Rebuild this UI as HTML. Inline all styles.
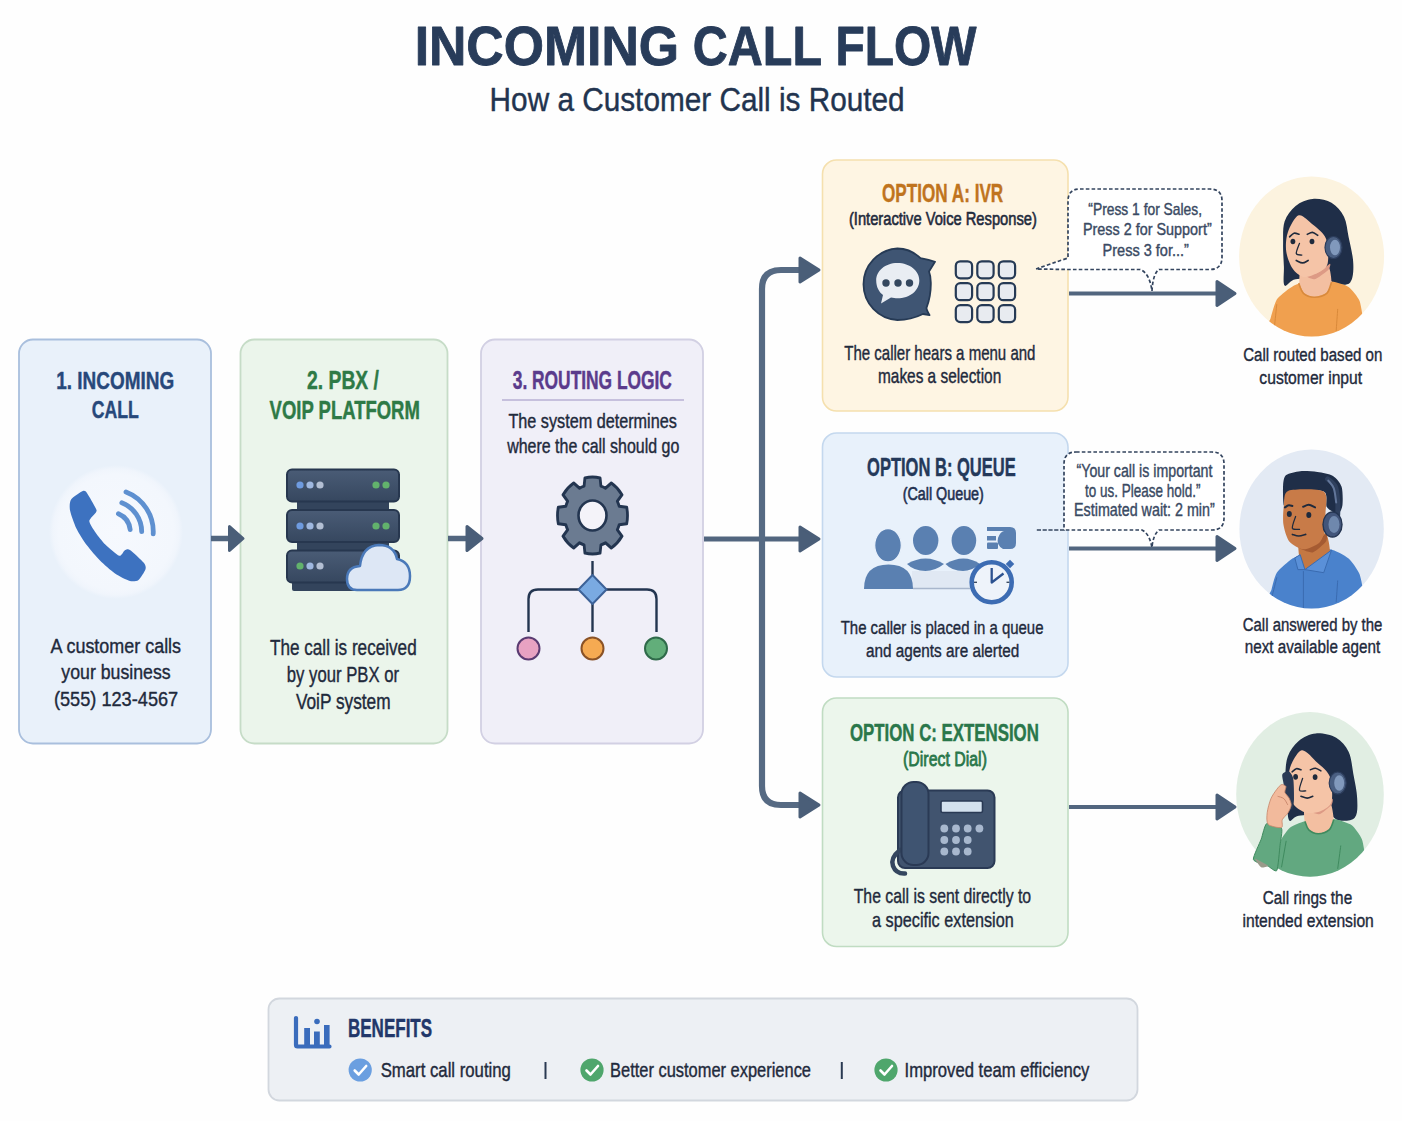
<!DOCTYPE html>
<html><head><meta charset="utf-8"><title>Incoming Call Flow</title>
<style>
html,body{margin:0;padding:0;background:#fefefe;}
body{width:1402px;height:1121px;overflow:hidden;position:relative;}
svg{position:absolute;left:0;top:0;font-family:"Liberation Sans",sans-serif;}
</style></head><body>
<svg width="1402" height="1121" viewBox="0 0 1402 1121">
<rect width="1402" height="1121" fill="#fefefe"/>
<rect x="19" y="339.5" width="192" height="404.0" rx="14" fill="#e9f1fa" stroke="#a9bfdd" stroke-width="1.8"/>
<rect x="240.5" y="339.5" width="207.0" height="404.0" rx="14" fill="#ebf5eb" stroke="#c6dcc7" stroke-width="1.8"/>
<rect x="481" y="339.5" width="222" height="404.0" rx="14" fill="#f0eff8" stroke="#d2d0e3" stroke-width="1.8"/>
<rect x="822.5" y="160" width="245.5" height="251" rx="14" fill="#fef5e3" stroke="#f5e0ae" stroke-width="1.6"/>
<rect x="822.5" y="433" width="245.5" height="244" rx="14" fill="#e8f1fb" stroke="#c4d8ee" stroke-width="1.6"/>
<rect x="822.5" y="698" width="245.5" height="248.5" rx="14" fill="#ecf6ec" stroke="#c0dcc2" stroke-width="1.6"/>
<rect x="268.5" y="998.5" width="869.0" height="102.0" rx="11" fill="#edf0f4" stroke="#d2d7de" stroke-width="1.8"/>
<path d="M211,538.5 H232" stroke="#52667f" stroke-width="5.5" fill="none"/>
<path d="M229.5,526.5 L243,538.5 L229.5,550.5 Z" fill="#4a5e78" stroke="#4a5e78" stroke-width="3" stroke-linejoin="round"/>
<path d="M448,538.5 H470" stroke="#52667f" stroke-width="5.5" fill="none"/>
<path d="M467,526.5 L482,538.5 L467,550.5 Z" fill="#4a5e78" stroke="#4a5e78" stroke-width="3" stroke-linejoin="round"/>
<path d="M704,539 H806" stroke="#52667f" stroke-width="5" fill="none"/>
<path d="M800,527.0 L819,539 L800,551.0 Z" fill="#4a5e78" stroke="#4a5e78" stroke-width="3" stroke-linejoin="round"/>
<path d="M804,270 H781 Q762,270 762,289 V786 Q762,805 781,805 H804" stroke="#566a83" stroke-width="6.2" fill="none"/>
<path d="M800,258.0 L819,270 L800,282.0 Z" fill="#4a5e78" stroke="#4a5e78" stroke-width="3" stroke-linejoin="round"/>
<path d="M800,793.0 L819,805 L800,817.0 Z" fill="#4a5e78" stroke="#4a5e78" stroke-width="3" stroke-linejoin="round"/>
<path d="M1069,293.5 H1222" stroke="#52667f" stroke-width="4" fill="none"/>
<path d="M1217,281.5 L1235,293.5 L1217,305.5 Z" fill="#4a5e78" stroke="#4a5e78" stroke-width="3" stroke-linejoin="round"/>
<path d="M1069,548.5 H1222" stroke="#52667f" stroke-width="4" fill="none"/>
<path d="M1217,536.5 L1235,548.5 L1217,560.5 Z" fill="#4a5e78" stroke="#4a5e78" stroke-width="3" stroke-linejoin="round"/>
<path d="M1069,807 H1222" stroke="#52667f" stroke-width="4.2" fill="none"/>
<path d="M1217,795.0 L1235,807 L1217,819.0 Z" fill="#4a5e78" stroke="#4a5e78" stroke-width="3" stroke-linejoin="round"/>
<path d="M1080,189 H1210 Q1222,189 1222,201 V257 Q1222,269.5 1210,269.5 H1159 C1155,272 1152.5,280 1152,291 C1150.5,280 1147,272 1140,269.5 H1068 L1036,269 Q1050,264 1068,258 V201 Q1068,189 1080,189 Z" stroke="#33445e" stroke-width="1.7" stroke-dasharray="3.6,2.2" fill="#ffffff"/>
<path d="M1076,452 H1212 Q1224,452 1224,464 V518 Q1224,530 1212,530 H1159 C1155,533 1152.5,540 1152,547.5 C1150.5,540 1148,533 1142,530 H1036 L1064,530 V464 Q1064,452 1076,452 Z" stroke="#33445e" stroke-width="1.7" stroke-dasharray="3.6,2.2" fill="#ffffff"/>
<text transform="translate(414.64,65.20) scale(0.9249,1)" font-size="55.96" font-weight="bold" fill="#283c5a" stroke="#283c5a" stroke-width="0.9" stroke-linejoin="round">INCOMING</text>
<text transform="translate(692.86,65.20) scale(0.8663,1)" font-size="55.96" font-weight="bold" fill="#283c5a" stroke="#283c5a" stroke-width="0.9" stroke-linejoin="round">CALL</text>
<text transform="translate(835.49,65.20) scale(0.8557,1)" font-size="55.96" font-weight="bold" fill="#283c5a" stroke="#283c5a" stroke-width="0.9" stroke-linejoin="round">FLOW</text>
<text transform="translate(489.62,110.60) scale(0.9104,1)" font-size="32.70" fill="#22344f" stroke="#22344f" stroke-width="0.4" stroke-linejoin="round">How a Customer Call is Routed</text>
<text transform="translate(56.26,388.70) scale(0.7670,1)" font-size="24.71" font-weight="bold" fill="#27487a" stroke="#27487a" stroke-width="0.45" stroke-linejoin="round">1. INCOMING</text>
<text transform="translate(91.69,418.00) scale(0.7143,1)" font-size="24.71" font-weight="bold" fill="#27487a" stroke="#27487a" stroke-width="0.45" stroke-linejoin="round">CALL</text>
<text transform="translate(50.50,653.20) scale(0.8514,1)" font-size="21.08" fill="#1f2a3c" stroke="#1f2a3c" stroke-width="0.4" stroke-linejoin="round">A customer calls</text>
<text transform="translate(61.31,679.30) scale(0.8414,1)" font-size="21.08" fill="#1f2a3c" stroke="#1f2a3c" stroke-width="0.4" stroke-linejoin="round">your business</text>
<text transform="translate(53.91,706.30) scale(0.8630,1)" font-size="21.08" fill="#1f2a3c" stroke="#1f2a3c" stroke-width="0.4" stroke-linejoin="round">(555) 123-4567</text>
<text transform="translate(307.12,389.00) scale(0.7673,1)" font-size="25.15" font-weight="bold" fill="#2e7a46" stroke="#2e7a46" stroke-width="0.45" stroke-linejoin="round">2. PBX /</text>
<text transform="translate(269.61,418.60) scale(0.7351,1)" font-size="25.15" font-weight="bold" fill="#2e7a46" stroke="#2e7a46" stroke-width="0.45" stroke-linejoin="round">VOIP PLATFORM</text>
<text transform="translate(269.96,655.00) scale(0.7864,1)" font-size="21.80" fill="#1f2a3c" stroke="#1f2a3c" stroke-width="0.4" stroke-linejoin="round">The call is received</text>
<text transform="translate(286.82,681.70) scale(0.7654,1)" font-size="21.80" fill="#1f2a3c" stroke="#1f2a3c" stroke-width="0.4" stroke-linejoin="round">by your PBX or</text>
<text transform="translate(295.91,708.80) scale(0.7928,1)" font-size="21.80" fill="#1f2a3c" stroke="#1f2a3c" stroke-width="0.4" stroke-linejoin="round">VoiP system</text>
<text transform="translate(512.77,388.70) scale(0.6828,1)" font-size="25.44" font-weight="bold" fill="#5b3b8c" stroke="#5b3b8c" stroke-width="0.45" stroke-linejoin="round">3. ROUTING LOGIC</text>
<line x1="502" y1="400" x2="684" y2="400" stroke="#b9b0d4" stroke-width="1.6"/>
<text transform="translate(508.38,428.40) scale(0.8332,1)" font-size="19.48" fill="#1f2a3c" stroke="#1f2a3c" stroke-width="0.4" stroke-linejoin="round">The system determines</text>
<text transform="translate(507.20,453.10) scale(0.8195,1)" font-size="19.48" fill="#1f2a3c" stroke="#1f2a3c" stroke-width="0.4" stroke-linejoin="round">where the call should go</text>
<text transform="translate(882.01,202.40) scale(0.6622,1)" font-size="25.87" font-weight="bold" fill="#c0741e" stroke="#c0741e" stroke-width="0.45" stroke-linejoin="round">OPTION A: IVR</text>
<text transform="translate(848.92,224.80) scale(0.8227,1)" font-size="17.88" fill="#1f2a3c" stroke="#1f2a3c" stroke-width="0.6" stroke-linejoin="round">(Interactive Voice Response)</text>
<text transform="translate(844.20,360.40) scale(0.7662,1)" font-size="19.62" fill="#1f2a3c" stroke="#1f2a3c" stroke-width="0.4" stroke-linejoin="round">The caller hears a menu and</text>
<text transform="translate(878.00,382.90) scale(0.7850,1)" font-size="19.62" fill="#1f2a3c" stroke="#1f2a3c" stroke-width="0.4" stroke-linejoin="round">makes a selection</text>
<text transform="translate(867.04,476.00) scale(0.6502,1)" font-size="25.44" font-weight="bold" fill="#24395a" stroke="#24395a" stroke-width="0.45" stroke-linejoin="round">OPTION B: QUEUE</text>
<text transform="translate(902.64,499.80) scale(0.8020,1)" font-size="17.88" fill="#1f3050" stroke="#1f3050" stroke-width="0.6" stroke-linejoin="round">(Call Queue)</text>
<text transform="translate(840.70,634.00) scale(0.7799,1)" font-size="19.19" fill="#1f2a3c" stroke="#1f2a3c" stroke-width="0.4" stroke-linejoin="round">The caller is placed in a queue</text>
<text transform="translate(865.99,657.00) scale(0.7981,1)" font-size="19.19" fill="#1f2a3c" stroke="#1f2a3c" stroke-width="0.4" stroke-linejoin="round">and agents are alerted</text>
<text transform="translate(849.93,741.00) scale(0.7065,1)" font-size="23.84" font-weight="bold" fill="#2a774a" stroke="#2a774a" stroke-width="0.45" stroke-linejoin="round">OPTION C: EXTENSION</text>
<text transform="translate(903.05,765.60) scale(0.7817,1)" font-size="20.35" fill="#2a774a" stroke="#2a774a" stroke-width="0.8" stroke-linejoin="round">(Direct Dial)</text>
<text transform="translate(853.68,903.30) scale(0.7614,1)" font-size="20.78" fill="#1f2a3c" stroke="#1f2a3c" stroke-width="0.4" stroke-linejoin="round">The call is sent directly to</text>
<text transform="translate(872.05,927.20) scale(0.7820,1)" font-size="20.78" fill="#1f2a3c" stroke="#1f2a3c" stroke-width="0.4" stroke-linejoin="round">a specific extension</text>
<text transform="translate(1088.32,214.70) scale(0.8658,1)" font-size="15.99" fill="#3a4a63" stroke="#3a4a63" stroke-width="0.4" stroke-linejoin="round">“Press 1 for Sales,</text>
<text transform="translate(1082.95,235.10) scale(0.9003,1)" font-size="15.99" fill="#3a4a63" stroke="#3a4a63" stroke-width="0.4" stroke-linejoin="round">Press 2 for Support”</text>
<text transform="translate(1102.54,255.50) scale(0.9098,1)" font-size="15.99" fill="#3a4a63" stroke="#3a4a63" stroke-width="0.4" stroke-linejoin="round">Press 3 for...”</text>
<text transform="translate(1076.50,477.00) scale(0.8148,1)" font-size="17.44" fill="#3a4a63" stroke="#3a4a63" stroke-width="0.4" stroke-linejoin="round">“Your call is important</text>
<text transform="translate(1085.00,496.70) scale(0.7734,1)" font-size="17.44" fill="#3a4a63" stroke="#3a4a63" stroke-width="0.4" stroke-linejoin="round">to us. Please hold.”</text>
<text transform="translate(1074.06,516.30) scale(0.8205,1)" font-size="17.44" fill="#3a4a63" stroke="#3a4a63" stroke-width="0.4" stroke-linejoin="round">Estimated wait: 2 min”</text>
<text transform="translate(1243.15,361.20) scale(0.7989,1)" font-size="18.90" fill="#1f2a3c" stroke="#1f2a3c" stroke-width="0.4" stroke-linejoin="round">Call routed based on</text>
<text transform="translate(1259.37,383.60) scale(0.8292,1)" font-size="18.90" fill="#1f2a3c" stroke="#1f2a3c" stroke-width="0.4" stroke-linejoin="round">customer input</text>
<text transform="translate(1242.75,630.70) scale(0.7916,1)" font-size="18.90" fill="#1f2a3c" stroke="#1f2a3c" stroke-width="0.4" stroke-linejoin="round">Call answered by the</text>
<text transform="translate(1244.71,653.00) scale(0.8066,1)" font-size="18.90" fill="#1f2a3c" stroke="#1f2a3c" stroke-width="0.4" stroke-linejoin="round">next available agent</text>
<text transform="translate(1262.73,904.00) scale(0.8123,1)" font-size="18.90" fill="#1f2a3c" stroke="#1f2a3c" stroke-width="0.4" stroke-linejoin="round">Call rings the</text>
<text transform="translate(1242.48,927.40) scale(0.8279,1)" font-size="18.90" fill="#1f2a3c" stroke="#1f2a3c" stroke-width="0.4" stroke-linejoin="round">intended extension</text>
<text transform="translate(347.99,1036.50) scale(0.6694,1)" font-size="25.44" font-weight="bold" fill="#22376a" stroke="#22376a" stroke-width="0.45" stroke-linejoin="round">BENEFITS</text>
<text transform="translate(380.65,1077.00) scale(0.8353,1)" font-size="20.06" fill="#1f2a3c" stroke="#1f2a3c" stroke-width="0.4" stroke-linejoin="round">Smart call routing</text>
<text transform="translate(610.08,1077.00) scale(0.8195,1)" font-size="20.06" fill="#1f2a3c" stroke="#1f2a3c" stroke-width="0.4" stroke-linejoin="round">Better customer experience</text>
<text transform="translate(904.50,1077.00) scale(0.8309,1)" font-size="20.06" fill="#1f2a3c" stroke="#1f2a3c" stroke-width="0.4" stroke-linejoin="round">Improved team efficiency</text>
<line x1="545.5" y1="1062" x2="545.5" y2="1079" stroke="#2a3a52" stroke-width="2"/>
<line x1="841.8" y1="1062" x2="841.8" y2="1079" stroke="#2a3a52" stroke-width="2"/>
<defs><radialGradient id="pg" cx="0.5" cy="0.5" r="0.5"><stop offset="0" stop-color="#f6f9fe"/><stop offset="0.86" stop-color="#f3f7fd"/><stop offset="0.94" stop-color="#f0f5fc"/><stop offset="1" stop-color="#e9f1fa"/></radialGradient></defs>
<circle cx="116" cy="532" r="67" fill="url(#pg)"/>
<path d="M82.8,491.1 C80.9,491.8 72.6,497.4 71.1,499.6 C69.6,501.8 69.4,506.9 70.0,510.3 C70.6,513.7 74.4,524.4 76.4,528.5 C78.4,532.6 84.3,541.9 87.1,545.6 C89.9,549.3 96.7,557.3 100.0,560.6 C103.3,563.9 111.5,571.1 115.0,573.5 C118.5,575.9 127.2,580.3 129.9,581.0 C132.6,581.7 136.7,581.3 138.5,579.9 C140.3,578.5 144.9,571.2 145.5,569.2 C146.1,567.2 145.6,565.1 143.8,562.8 C142.0,560.5 132.1,551.3 129.9,549.9 C127.7,548.5 125.8,549.8 124.6,550.5 C123.4,551.2 121.5,556.5 119.2,555.8 C116.9,555.1 108.0,547.3 105.3,544.6 C102.6,541.9 97.6,535.6 95.7,532.8 C93.8,530.0 89.2,523.4 89.3,521.0 C89.4,518.6 95.5,513.4 96.2,511.9 C96.9,510.4 96.8,510.4 95.7,508.2 C94.6,506.0 88.6,495.2 87.1,493.2 C85.6,491.2 84.7,490.4 82.8,491.1 Z" fill="#3d72c0"/>
<path d="M118.4,513.7 A19.6,19.6 0 0 1 130.2,529.7" stroke="#5e90d0" stroke-width="4.8" fill="none" stroke-linecap="round"/>
<path d="M121.8,502.8 A31,31 0 0 1 141.7,531.7" stroke="#5e90d0" stroke-width="4.8" fill="none" stroke-linecap="round"/>
<path d="M126.0,491.9 A42.6,42.6 0 0 1 153.2,533.9" stroke="#5e90d0" stroke-width="4.8" fill="none" stroke-linecap="round"/>
<defs><linearGradient id="svg1" x1="0" y1="0" x2="0" y2="1"><stop offset="0" stop-color="#4a5c76"/><stop offset="1" stop-color="#36475f"/></linearGradient></defs>
<rect x="297" y="498" width="92" height="14" fill="#33445c"/>
<rect x="297" y="539" width="92" height="14" fill="#33445c"/>
<rect x="292" y="580" width="105" height="11" rx="2" fill="#33445c"/>
<rect x="287" y="469.5" width="112" height="32" rx="5" fill="url(#svg1)" stroke="#27374f" stroke-width="2"/>
<rect x="287" y="510" width="112" height="32" rx="5" fill="url(#svg1)" stroke="#27374f" stroke-width="2"/>
<rect x="287" y="550.5" width="112" height="32" rx="5" fill="url(#svg1)" stroke="#27374f" stroke-width="2"/>
<circle cx="300" cy="485" r="3.6" fill="#6e9be0"/>
<circle cx="310" cy="485" r="3.6" fill="#9fb8e0"/>
<circle cx="320" cy="485" r="3.6" fill="#b3bfd3"/>
<circle cx="300" cy="526" r="3.6" fill="#6e9be0"/>
<circle cx="310" cy="526" r="3.6" fill="#9fb8e0"/>
<circle cx="320" cy="526" r="3.6" fill="#b3bfd3"/>
<circle cx="300" cy="566" r="3.6" fill="#62b26c"/>
<circle cx="310" cy="566" r="3.6" fill="#9fb8e0"/>
<circle cx="320" cy="566" r="3.6" fill="#b3bfd3"/>
<circle cx="376" cy="485" r="3.6" fill="#62b26c"/>
<circle cx="386" cy="485" r="3.6" fill="#62b26c"/>
<circle cx="376" cy="526" r="3.6" fill="#62b26c"/>
<circle cx="386" cy="526" r="3.6" fill="#62b26c"/>
<path d="M357,590 Q347,590 347,579 Q347,567 360,566 Q362,546 379,545 Q394,545 397,559 Q410,562 410,576 Q410,590 398,590 Z" fill="#dde7f5" stroke="#4a79b9" stroke-width="2.5" stroke-linejoin="round"/>
<path d="M584.08,488.80 L584.92,481.33 A35,35 0 0 1 600.08,481.33 L600.92,488.80 A28,28 0 0 1 605.43,490.66 L611.31,485.98 A35,35 0 0 1 622.02,496.69 L617.34,502.57 A28,28 0 0 1 619.20,507.08 L626.67,507.92 A35,35 0 0 1 626.67,523.08 L619.20,523.92 A28,28 0 0 1 617.34,528.43 L622.02,534.31 A35,35 0 0 1 611.31,545.02 L605.43,540.34 A28,28 0 0 1 600.92,542.20 L600.08,549.67 A35,35 0 0 1 584.92,549.67 L584.08,542.20 A28,28 0 0 1 579.57,540.34 L573.69,545.02 A35,35 0 0 1 562.98,534.31 L567.66,528.43 A28,28 0 0 1 565.80,523.92 L558.33,523.08 A35,35 0 0 1 558.33,507.92 L565.80,507.08 A28,28 0 0 1 567.66,502.57 L562.98,496.69 A35,35 0 0 1 573.69,485.98 L579.57,490.66 A28,28 0 0 1 584.08,488.80 Z" fill="#6b7b91" stroke="#233550" stroke-width="2.8" stroke-linejoin="round" transform="translate(0,-51.55) scale(1,1.1)"/>
<ellipse cx="592.5" cy="515.5" rx="14" ry="15" fill="#f4f3f9" stroke="#233550" stroke-width="2.6"/>
<path d="M592.5,561 V576" stroke="#233550" stroke-width="2.4"/>
<path d="M528.5,632 V599 Q528.5,589.5 538,589.5 H647 Q656.5,589.5 656.5,599 V632" stroke="#233550" stroke-width="2.4" fill="none"/>
<path d="M592.5,603 V632" stroke="#233550" stroke-width="2.4"/>
<path d="M592.5,575 L606.5,589.5 L592.5,604 L578.5,589.5 Z" fill="#7aaae2" stroke="#3d6298" stroke-width="2" stroke-linejoin="round"/>
<circle cx="528.5" cy="648.5" r="11" fill="#e8a2c2" stroke="#5b3b72" stroke-width="2"/>
<circle cx="592.5" cy="648.5" r="11" fill="#f5aa52" stroke="#8a5226" stroke-width="2"/>
<circle cx="656" cy="648.5" r="11" fill="#62ae7a" stroke="#2f6a4a" stroke-width="2"/>
<path d="M897.4,248.5 A35.8,35.8 0 0 0 897.4,320 C907,320 916,317.5 922.9,314 L929.6,315.2 C927.5,311.5 926.5,309.5 926.5,307.9 C929.5,300 931,290 930.8,282.4 C930.8,278 930,274 929,271.5 L935,261.8 C930,260 925,259 920.5,258.2 C914,252 906,248.5 897.4,248.5 Z" fill="#3f5573" stroke="#263a55" stroke-width="1.8" stroke-linejoin="round"/>
<path d="M897.4,263 C885,263 876.2,271 876.2,280.5 C876.2,287 879,292 883,295 L881,303.5 L891,297.5 C893,298 895.5,298.3 897.4,298.3 C910,298.3 919.3,290.5 919.3,280.5 C919.3,271 910,263 897.4,263 Z" fill="#e9edf3"/>
<circle cx="886" cy="283" r="3.7" fill="#34475f"/>
<circle cx="898" cy="283" r="3.7" fill="#34475f"/>
<circle cx="909.5" cy="283" r="3.7" fill="#34475f"/>
<rect x="955.8" y="261.3" width="16.3" height="17" rx="4.5" fill="#e8ebf0" stroke="#263a55" stroke-width="2.2"/>
<rect x="977.3" y="261.3" width="16.3" height="17" rx="4.5" fill="#e8ebf0" stroke="#263a55" stroke-width="2.2"/>
<rect x="998.8" y="261.3" width="16.3" height="17" rx="4.5" fill="#e8ebf0" stroke="#263a55" stroke-width="2.2"/>
<rect x="955.8" y="283.2" width="16.3" height="17" rx="4.5" fill="#e8ebf0" stroke="#263a55" stroke-width="2.2"/>
<rect x="977.3" y="283.2" width="16.3" height="17" rx="4.5" fill="#e8ebf0" stroke="#263a55" stroke-width="2.2"/>
<rect x="998.8" y="283.2" width="16.3" height="17" rx="4.5" fill="#e8ebf0" stroke="#263a55" stroke-width="2.2"/>
<rect x="955.8" y="305.1" width="16.3" height="17" rx="4.5" fill="#e8ebf0" stroke="#263a55" stroke-width="2.2"/>
<rect x="977.3" y="305.1" width="16.3" height="17" rx="4.5" fill="#e8ebf0" stroke="#263a55" stroke-width="2.2"/>
<rect x="998.8" y="305.1" width="16.3" height="17" rx="4.5" fill="#e8ebf0" stroke="#263a55" stroke-width="2.2"/>
<ellipse cx="925.7" cy="540.5" rx="12.7" ry="14.5" fill="#5a80b1"/>
<path d="M907,564 Q925.5,553 944,564 Q935,571 925.5,571 Q914,571 907,564 Z" fill="#5a80b1"/>
<ellipse cx="963.9" cy="540.5" rx="12.3" ry="14.5" fill="#5a80b1"/>
<path d="M945.5,564 Q964,553 980,564 Q972,571 963,571 Q952,571 945.5,564 Z" fill="#5a80b1"/>
<rect x="912" y="571" width="58" height="17" fill="#e0e8f3"/>
<line x1="913" y1="588.5" x2="970" y2="588.5" stroke="#a8b6cc" stroke-width="1.5"/>
<ellipse cx="888" cy="545.3" rx="13.3" ry="16.6" fill="#5a80b1" stroke="#e9f1fb" stroke-width="1.2"/>
<path d="M864,589 Q864,564.5 888.5,564.5 Q913,564.5 913,589 Z" fill="#5a80b1"/>
<path d="M987,527 H1010 Q1016,527 1016,533 V543 Q1016,549 1010,549 H1003 Q996,545 998,538 Q1000,532 1004,531 L987,531 Z" fill="#5a80b1"/>
<rect x="987" y="536" width="9" height="4.5" fill="#5a80b1"/>
<rect x="987" y="542.5" width="11" height="6.5" rx="1" fill="#5a80b1"/>
<circle cx="991.7" cy="582.3" r="20" fill="#eef3fa" stroke="#3c6cb3" stroke-width="4.6"/>
<rect x="1007" y="561" width="6" height="6" transform="rotate(45 1010 564)" fill="#3c6cb3"/>
<path d="M991.7,568 V582.5 L1003.5,573.5" stroke="#2c5290" stroke-width="2.3" fill="none" stroke-linejoin="round"/>
<line x1="974" y1="582.3" x2="977" y2="582.3" stroke="#3c4c63" stroke-width="1.4"/>
<line x1="1006.5" y1="582.3" x2="1009.5" y2="582.3" stroke="#3c4c63" stroke-width="1.4"/>
<rect x="898" y="790.5" width="96.5" height="77.5" rx="7" fill="#41546f" stroke="#2a3a55" stroke-width="2"/>
<path d="M900,850 Q890,858 893,866 Q896,874 905,873.5" stroke="#34465f" stroke-width="4.5" fill="none" stroke-linecap="round"/>
<rect x="901.5" y="782" width="27" height="83" rx="12" fill="#3f5471" stroke="#2a3a55" stroke-width="2"/>
<rect x="941" y="801" width="41.5" height="11.5" rx="1.5" fill="#d3e1ee" stroke="#2a3a55" stroke-width="1.6"/>
<circle cx="944.3" cy="828.5" r="3.9" fill="#a8b8ce"/>
<circle cx="956.0" cy="828.5" r="3.9" fill="#a8b8ce"/>
<circle cx="967.7" cy="828.5" r="3.9" fill="#a8b8ce"/>
<circle cx="979.4" cy="828.5" r="3.9" fill="#a8b8ce"/>
<circle cx="944.3" cy="840.0" r="3.9" fill="#a8b8ce"/>
<circle cx="956.0" cy="840.0" r="3.9" fill="#a8b8ce"/>
<circle cx="967.7" cy="840.0" r="3.9" fill="#a8b8ce"/>
<circle cx="944.3" cy="851.5" r="3.9" fill="#a8b8ce"/>
<circle cx="956.0" cy="851.5" r="3.9" fill="#a8b8ce"/>
<circle cx="967.7" cy="851.5" r="3.9" fill="#a8b8ce"/>
<path d="M296,1018 V1045 Q296,1046.5 297.5,1046.5 H329.5" stroke="#3a6cbc" stroke-width="4.2" fill="none" stroke-linecap="round" stroke-linejoin="round"/>
<rect x="304.2" y="1028" width="5.8" height="18" fill="#3a6cbc"/>
<rect x="314" y="1031.5" width="5.8" height="14.5" fill="#3a6cbc"/>
<circle cx="317" cy="1021.5" r="2.8" fill="#3a6cbc"/>
<rect x="324" y="1025" width="5.6" height="21" fill="#3a6cbc"/>
<circle cx="360.2" cy="1070" r="11.6" fill="#6b9fe0"/>
<path d="M354.7,1070.5 L358.7,1074.5 L366.2,1066" stroke="#ffffff" stroke-width="2.6" fill="none" stroke-linecap="round" stroke-linejoin="round"/>
<circle cx="592" cy="1070" r="11.6" fill="#4fa66c"/>
<path d="M586.5,1070.5 L590.5,1074.5 L598,1066" stroke="#ffffff" stroke-width="2.6" fill="none" stroke-linecap="round" stroke-linejoin="round"/>
<circle cx="886" cy="1070" r="11.6" fill="#4fa66c"/>
<path d="M880.5,1070.5 L884.5,1074.5 L892,1066" stroke="#ffffff" stroke-width="2.6" fill="none" stroke-linecap="round" stroke-linejoin="round"/><defs><clipPath id="cpA"><ellipse cx="1311.6" cy="256.5" rx="72.5" ry="80"/></clipPath><clipPath id="cpB"><ellipse cx="1311.6" cy="529" rx="72.2" ry="79.6"/></clipPath><clipPath id="cpC"><ellipse cx="1310" cy="794.4" rx="73.8" ry="82.3"/></clipPath></defs>
<ellipse cx="1311.6" cy="256.5" rx="72.5" ry="80" fill="#fcf3df"/>
<g clip-path="url(#cpA)">
<path d="M1284.6,285.5 C1282.7,283.4 1284.1,273.8 1283.9,266.8 C1283.6,259.8 1282.9,250.9 1283.1,243.4 C1283.2,235.8 1282.6,227.8 1284.6,221.5 C1286.7,215.3 1290.9,209.7 1295.6,205.9 C1300.2,202.1 1306.8,199.4 1312.7,198.9 C1318.7,198.4 1326.3,199.8 1331.5,202.8 C1336.7,205.8 1341.1,211.1 1344.0,216.8 C1346.8,222.6 1347.1,229.3 1348.6,237.1 C1350.2,244.9 1353.1,256.1 1353.3,263.7 C1353.6,271.2 1353.1,279.0 1350.2,282.4 C1347.3,285.8 1340.6,284.7 1336.2,284.0 C1331.7,283.2 1330.4,278.5 1323.7,277.7 C1316.9,276.9 1302.1,278.0 1295.6,279.3 C1289.1,280.6 1286.6,287.6 1284.6,285.5 Z" fill="#1f2e48"/>
<path d="M1265.9,341.7 C1256.2,339.4 1269.5,322.5 1270.6,318.3 C1271.7,314.1 1275.0,302.5 1276.8,299.6 C1278.7,296.6 1287.0,290.3 1289.3,288.6 C1291.7,287.0 1296.0,283.9 1300.2,283.2 C1304.5,282.5 1326.6,281.2 1331.5,281.6 C1336.3,282.0 1345.8,285.1 1348.6,287.1 C1351.4,289.0 1358.0,297.2 1359.6,301.1 C1361.1,305.0 1363.5,322.0 1364.2,326.1 C1365.0,330.2 1377.2,340.2 1367.4,341.7 C1357.5,343.3 1275.6,344.1 1265.9,341.7 Z" fill="#f0a04f"/>
<path d="M1276.8,304.2 C1276.4,307.9 1274.9,322.5 1274.5,326.1" stroke="#d8893a" stroke-width="1" fill="none"/>
<path d="M1337.7,308.9 C1337.5,312.6 1336.4,327.1 1336.2,330.8" stroke="#d8893a" stroke-width="1" fill="none"/>
<path d="M1301.0,269.9 C1299.1,271.1 1299.2,282.3 1299.5,284.0 C1299.7,285.6 1303.9,293.2 1304.9,294.1 C1305.9,295.0 1312.9,297.3 1314.3,297.2 C1315.7,297.2 1324.9,294.3 1326.0,293.3 C1327.1,292.3 1331.3,284.2 1331.5,282.4 C1331.6,280.6 1330.4,267.6 1328.3,266.8 C1326.3,266.0 1303.0,268.8 1301.0,269.9 Z" fill="#f3bfa1"/>
<path d="M1298.7,283.2 C1299.5,284.9 1300.8,291.0 1303.4,293.3 C1306.0,295.7 1310.4,297.2 1314.3,297.2 C1318.2,297.2 1323.9,295.8 1326.8,293.3 C1329.6,290.8 1330.7,284.0 1331.5,282.1" stroke="#d98a3c" stroke-width="1.6" fill="none"/>
<path d="M1303.4,274.6 C1303.1,275.2 1311.8,279.7 1314.3,279.3 C1316.8,278.8 1326.8,271.5 1328.3,269.9 C1329.9,268.3 1331.0,263.3 1329.9,263.7 C1328.8,264.0 1320.1,271.9 1317.4,273.0 C1314.8,274.1 1303.7,274.0 1303.4,274.6 Z" fill="#dd9a85"/>
<path d="M1287.8,232.4 C1289.6,227.1 1294.9,216.4 1298.7,215.3 C1302.4,214.1 1308.6,221.1 1312.7,224.6 C1316.8,228.1 1323.8,232.8 1326.0,238.7 C1328.2,244.5 1328.9,258.5 1327.6,263.7 C1326.3,268.8 1321.0,271.0 1317.4,273.0 C1313.8,275.0 1307.1,277.6 1303.4,276.9 C1299.6,276.2 1295.0,272.2 1292.4,268.3 C1289.9,264.5 1286.9,256.6 1286.2,251.2 C1285.5,245.8 1285.9,237.8 1287.8,232.4 Z" fill="#f5c4a7"/>
<path d="M1289.6,236.8 C1290.4,236.2 1292.4,233.6 1294.0,233.2 C1295.6,232.8 1298.2,234.1 1299.0,234.3" stroke="#1f2a3c" stroke-width="1.6" fill="none" stroke-linecap="round"/>
<path d="M1307.3,234.3 C1308.1,234.0 1310.7,232.3 1312.4,232.4 C1314.2,232.6 1316.8,234.8 1317.7,235.3" stroke="#1f2a3c" stroke-width="1.6" fill="none" stroke-linecap="round"/>
<ellipse cx="1292.9" cy="241.5" rx="2.4" ry="2.8" fill="#1f2a3c"/>
<ellipse cx="1312.0" cy="241.5" rx="2.4" ry="2.8" fill="#1f2a3c"/>
<path d="M1299.5,243.4 C1298.9,245.1 1296.0,251.6 1296.3,253.5 C1296.7,255.5 1300.9,254.8 1301.8,255.1" stroke="#1f2a3c" stroke-width="1.3" fill="none" stroke-linecap="round"/>
<path d="M1296.3,260.5 C1297.4,260.9 1300.6,262.9 1302.6,262.9 C1304.5,262.9 1307.1,260.9 1308.1,260.5" stroke="#1f2a3c" stroke-width="1.7" fill="none" stroke-linecap="round"/>
<ellipse cx="1333.5" cy="247.5" rx="8.5" ry="11" fill="#4a5f82" stroke="#2c3d5c" stroke-width="1.2"/>
<ellipse cx="1335" cy="247.5" rx="5" ry="7.8" fill="#8199bc"/>
</g>
<ellipse cx="1311.6" cy="529" rx="72.2" ry="79.6" fill="#e3eaf4"/>
<g clip-path="url(#cpB)">
<path d="M1265.9,611.7 C1256.3,609.5 1270.3,593.8 1271.4,589.9 C1272.5,586.0 1274.7,575.8 1276.8,572.7 C1278.9,569.6 1289.6,560.5 1292.4,558.6 C1295.3,556.8 1301.2,554.9 1304.9,554.0 C1308.7,553.0 1325.5,548.8 1329.9,549.3 C1334.3,549.7 1345.7,556.1 1348.6,558.6 C1351.6,561.1 1358.0,570.5 1359.6,574.2 C1361.1,578.0 1363.5,592.4 1364.2,596.1 C1365.0,599.9 1377.2,610.2 1367.4,611.7 C1357.5,613.3 1275.5,613.9 1265.9,611.7 Z" fill="#4a82cc"/>
<path d="M1298.7,533.7 C1296.9,535.3 1299.0,556.2 1299.5,558.6 C1299.9,561.0 1303.7,569.1 1304.9,569.6 C1306.1,570.0 1315.8,566.0 1317.4,564.9 C1319.1,563.7 1329.3,554.5 1329.9,552.4 C1330.5,550.3 1328.1,534.9 1326.0,533.7 C1323.9,532.4 1300.5,532.0 1298.7,533.7 Z" fill="#c47843"/>
<path d="M1298.7,547.7 C1298.8,548.3 1310.0,553.0 1312.7,552.4 C1315.5,551.8 1324.7,543.3 1326.0,541.5 C1327.3,539.6 1327.5,533.2 1326.0,533.7 C1324.5,534.1 1313.9,544.7 1311.2,546.2 C1308.4,547.6 1298.5,547.1 1298.7,547.7 Z" fill="#a55b32"/>
<path d="M1294.8,557.9 L1297.9,569.6 L1304.9,569.6 L1300.2,554.7 Z" fill="#5a90d8" stroke="#3a6bb0" stroke-width="1"/>
<path d="M1331.5,550.1 L1323.7,572.7 L1304.9,569.6 Z" fill="#5a90d8" stroke="#3a6bb0" stroke-width="1"/>
<path d="M1303.4,571.1 V610" stroke="#3a6bb0" stroke-width="1" fill="none"/>
<path d="M1276.8,577.4 C1276.1,580.5 1272.9,593.0 1272.1,596.1" stroke="#3a6bb0" stroke-width="1" fill="none"/>
<path d="M1337.7,580.5 C1337.5,584.1 1336.4,598.7 1336.2,602.3" stroke="#3a6bb0" stroke-width="1" fill="none"/>
<path d="M1283.9,505.6 C1283.0,504.7 1282.8,489.3 1283.1,485.3 C1283.4,481.2 1283.9,477.0 1286.2,475.1 C1288.5,473.3 1296.1,471.6 1300.2,471.2 C1304.4,470.8 1313.0,471.4 1317.4,472.0 C1321.8,472.6 1329.8,473.9 1333.0,475.9 C1336.3,477.9 1340.4,482.9 1341.6,486.8 C1342.9,490.8 1342.9,502.0 1342.4,505.6 C1341.9,509.1 1339.8,513.2 1337.7,513.4 C1335.6,513.6 1328.7,510.0 1326.8,507.1 C1324.9,504.2 1328.7,493.6 1323.7,491.5 C1318.7,489.4 1294.6,489.6 1289.3,491.5 C1284.0,493.4 1284.7,506.4 1283.9,505.6 Z" fill="#1f2e48"/>
<path d="M1283.9,505.6 C1284.5,501.1 1283.2,492.6 1288.5,490.7 C1293.8,488.9 1318.7,488.5 1323.7,491.5 C1328.6,494.5 1325.4,508.2 1325.5,513.4 C1325.7,518.6 1325.8,526.6 1324.9,530.5 C1324.0,534.5 1321.9,540.5 1319.0,543.0 C1316.1,545.5 1307.3,549.5 1303.4,549.3 C1299.4,549.1 1292.0,544.8 1289.3,541.5 C1286.7,538.1 1284.1,529.1 1283.4,524.3 C1282.7,519.5 1283.2,510.0 1283.9,505.6 Z" fill="#c87b48"/>
<path d="M1284.9,507.4 C1285.5,507.1 1287.3,505.5 1288.5,505.3 C1289.8,505.0 1291.8,505.8 1292.4,505.9" stroke="#1f2a3c" stroke-width="2" fill="none" stroke-linecap="round"/>
<path d="M1303.1,506.8 C1304.0,506.5 1306.8,504.7 1308.8,504.8 C1310.8,504.9 1314.0,507.0 1315.1,507.4" stroke="#1f2a3c" stroke-width="2" fill="none" stroke-linecap="round"/>
<ellipse cx="1289.3" cy="514.1" rx="2.5" ry="3" fill="#1f2a3c"/>
<ellipse cx="1308.8" cy="514.9" rx="2.5" ry="3" fill="#1f2a3c"/>
<path d="M1295.6,516.5 C1295.0,518.4 1291.8,526.1 1292.4,528.2 C1293.1,530.3 1298.3,529.1 1299.5,529.3" stroke="#1f2a3c" stroke-width="1.3" fill="none" stroke-linecap="round"/>
<path d="M1292.4,534.4 C1293.5,534.7 1296.5,536.0 1298.7,536.0 C1300.9,536.0 1304.5,534.7 1305.7,534.4" stroke="#1f2a3c" stroke-width="1.6" fill="none" stroke-linecap="round"/>
<path d="M1327.6,479.0 C1328.9,480.3 1333.7,482.9 1335.4,486.8 C1337.1,490.7 1337.3,497.8 1337.7,502.4 C1338.1,507.1 1337.7,512.8 1337.7,514.9" stroke="#2f405e" stroke-width="5" fill="none" stroke-linecap="round"/>
<path d="M1328.3,480.6 C1329.3,481.9 1332.5,484.7 1333.8,488.4 C1335.1,492.0 1335.8,500.1 1336.2,502.4" stroke="#62769a" stroke-width="2" fill="none" stroke-linecap="round"/>
<ellipse cx="1332.5" cy="524.5" rx="9.5" ry="12.5" fill="#42557a" stroke="#243552" stroke-width="1.4"/>
<ellipse cx="1334" cy="524.5" rx="5.5" ry="8.5" fill="#6f88ad"/>
</g>
<ellipse cx="1310" cy="794.4" rx="73.8" ry="82.3" fill="#e1eee3"/>
<g clip-path="url(#cpC)">
<path d="M1289.3,820.5 C1287.4,818.2 1287.6,808.8 1287.0,801.8 C1286.3,794.8 1285.3,785.9 1285.4,778.4 C1285.5,770.8 1285.5,762.8 1287.8,756.5 C1290.0,750.3 1294.0,744.8 1298.7,740.9 C1303.4,737.1 1309.6,733.9 1315.9,733.4 C1322.1,732.9 1330.7,734.7 1336.2,737.8 C1341.6,740.9 1345.8,745.8 1348.6,751.8 C1351.5,757.8 1351.9,765.9 1353.3,773.7 C1354.8,781.5 1357.0,791.4 1357.2,798.7 C1357.5,805.9 1357.9,813.8 1354.9,817.4 C1351.9,821.0 1344.0,821.0 1339.3,820.5 C1334.6,820.0 1333.5,815.1 1326.8,814.3 C1320.0,813.5 1304.9,814.8 1298.7,815.8 C1292.4,816.9 1291.3,822.9 1289.3,820.5 Z" fill="#1f2e48"/>
<path d="M1273.7,879.8 C1264.8,876.4 1276.8,850.6 1278.4,845.5 C1280.0,840.3 1286.7,830.7 1289.3,828.3 C1292.0,825.9 1300.6,822.2 1304.9,821.3 C1309.3,820.4 1328.3,818.6 1333.0,819.0 C1337.7,819.3 1348.9,823.2 1351.8,825.2 C1354.6,827.2 1360.5,835.7 1361.9,839.2 C1363.3,842.8 1365.3,857.0 1365.8,861.1 C1366.4,865.2 1376.6,878.0 1367.4,879.8 C1358.2,881.7 1282.6,883.3 1273.7,879.8 Z" fill="#62a880"/>
<path d="M1286.2,840.8 C1285.4,845.2 1282.3,862.9 1281.5,867.3" stroke="#3f8a5e" stroke-width="1" fill="none"/>
<path d="M1340.8,845.5 C1340.3,849.4 1338.2,865.0 1337.7,868.9" stroke="#3f8a5e" stroke-width="1" fill="none"/>
<path d="M1304.9,806.5 C1303.2,807.8 1304.4,819.7 1304.6,821.3 C1304.9,822.9 1307.9,829.1 1308.8,829.9 C1309.7,830.7 1316.8,833.8 1318.2,833.8 C1319.6,833.8 1328.1,830.8 1329.1,829.9 C1330.2,828.9 1333.8,821.6 1333.8,819.7 C1333.9,817.9 1331.8,802.7 1329.9,801.8 C1328.0,800.9 1306.6,805.2 1304.9,806.5 Z" fill="#f3bfa1"/>
<path d="M1304.9,821.3 C1305.6,822.7 1306.6,827.8 1308.8,829.9 C1311.0,832.0 1314.8,833.8 1318.2,833.8 C1321.6,833.8 1326.5,832.2 1329.1,829.9 C1331.7,827.5 1333.0,821.4 1333.8,819.7" stroke="#3f8a5e" stroke-width="1.6" fill="none"/>
<path d="M1306.5,809.6 C1306.3,810.2 1316.5,814.7 1319.0,814.3 C1321.5,813.8 1330.1,806.5 1331.5,804.9 C1332.8,803.3 1333.3,798.3 1332.2,798.7 C1331.2,799.0 1323.1,806.9 1320.5,808.0 C1318.0,809.1 1306.6,809.0 1306.5,809.6 Z" fill="#dd9a85"/>
<path d="M1290.1,767.4 C1292.1,761.6 1297.7,751.0 1301.8,750.3 C1305.9,749.6 1313.2,758.8 1317.4,762.8 C1321.6,766.7 1327.8,771.0 1329.9,776.8 C1332.0,782.7 1332.9,796.6 1331.5,801.8 C1330.1,806.9 1324.3,809.5 1320.5,811.2 C1316.8,812.8 1310.5,813.6 1306.5,812.7 C1302.5,811.8 1296.7,808.4 1294.0,804.9 C1291.3,801.4 1289.1,794.9 1288.5,789.3 C1288.0,783.7 1288.1,773.3 1290.1,767.4 Z" fill="#f5c4a7"/>
<path d="M1292.1,771.8 C1292.8,771.3 1294.9,769.0 1296.3,768.7 C1297.8,768.4 1300.2,769.6 1301.0,769.8" stroke="#1f2a3c" stroke-width="1.6" fill="none" stroke-linecap="round"/>
<path d="M1310.4,769.8 C1311.3,769.5 1313.8,768.0 1315.5,768.2 C1317.3,768.4 1320.0,770.4 1320.9,770.9" stroke="#1f2a3c" stroke-width="1.6" fill="none" stroke-linecap="round"/>
<ellipse cx="1295.6" cy="776.8" rx="2.4" ry="2.9" fill="#1f2a3c"/>
<ellipse cx="1315.1" cy="777.1" rx="2.4" ry="2.9" fill="#1f2a3c"/>
<path d="M1302.6,778.4 C1302.1,780.3 1298.9,788.0 1299.5,790.1 C1300.0,792.2 1304.7,790.7 1305.7,790.9" stroke="#1f2a3c" stroke-width="1.3" fill="none" stroke-linecap="round"/>
<path d="M1301.0,796.3 C1302.1,796.6 1305.3,798.2 1307.3,798.2 C1309.2,798.2 1311.8,796.6 1312.7,796.3" stroke="#1f2a3c" stroke-width="1.7" fill="none" stroke-linecap="round"/>
<ellipse cx="1337.7" cy="783" rx="8.5" ry="11" fill="#4a5f82" stroke="#2c3d5c" stroke-width="1.2"/>
<ellipse cx="1339.2" cy="783" rx="5" ry="7.8" fill="#8199bc"/>
</g>
<path d="M1282.3,774.5 C1282.8,772.7 1287.3,770.9 1288.5,771.3 C1289.8,771.8 1292.6,775.2 1293.2,778.4 C1293.9,781.6 1294.1,795.1 1294.0,798.7 C1293.9,802.2 1293.4,807.5 1292.4,808.8 C1291.4,810.1 1286.7,810.8 1285.4,809.6 C1284.1,808.4 1281.7,801.4 1281.5,798.7 C1281.3,795.9 1283.8,789.0 1283.9,786.2 C1283.9,783.4 1281.7,776.2 1282.3,774.5 Z" fill="#2a3a55"/>
<path d="M1253.4,859.5 C1252.8,856.9 1259.9,842.8 1261.2,839.2 C1262.5,835.7 1264.7,824.7 1266.7,823.6 C1268.7,822.5 1280.2,826.1 1281.5,828.3 C1282.8,830.5 1280.4,841.3 1280.0,845.5 C1279.5,849.7 1278.1,868.4 1276.8,870.5 C1275.6,872.5 1269.8,866.9 1267.5,865.8 C1265.1,864.7 1254.0,862.2 1253.4,859.5 Z" fill="#62a880" stroke="#3f8a5e" stroke-width="1"/>
<path d="M1255.0,858.8 C1255.7,858.6 1267.6,864.9 1268.2,865.8 C1268.9,866.6 1262.5,868.1 1261.2,867.3 C1259.9,866.6 1254.3,858.9 1255.0,858.8 Z" fill="#9a9a8a"/>
<path d="M1268.2,824.4 C1266.3,822.4 1266.8,816.1 1267.2,812.7 C1267.5,809.3 1269.6,801.8 1270.9,798.7 C1272.2,795.5 1275.4,791.2 1276.8,789.3 C1278.2,787.4 1280.3,785.0 1281.5,784.6 C1282.7,784.2 1285.4,785.4 1285.9,786.5 C1286.3,787.5 1284.5,790.9 1284.9,792.4 C1285.4,793.9 1288.2,796.2 1289.0,797.9 C1289.8,799.5 1291.3,802.9 1291.2,804.9 C1291.1,806.9 1289.3,810.7 1288.1,812.7 C1286.9,814.7 1283.2,817.8 1282.3,819.7 C1281.4,821.7 1283.4,826.9 1281.5,827.5 C1279.6,828.2 1270.2,826.4 1268.2,824.4 Z" fill="#f2ba9c" stroke="#c7856a" stroke-width="0.8"/>
<path d="M1277.6,796.3 C1278.7,796.7 1282.2,797.2 1283.9,798.7 C1285.5,800.1 1287.1,803.9 1287.8,804.9" stroke="#c7856a" stroke-width="0.9" fill="none"/>
</svg>
</body></html>
